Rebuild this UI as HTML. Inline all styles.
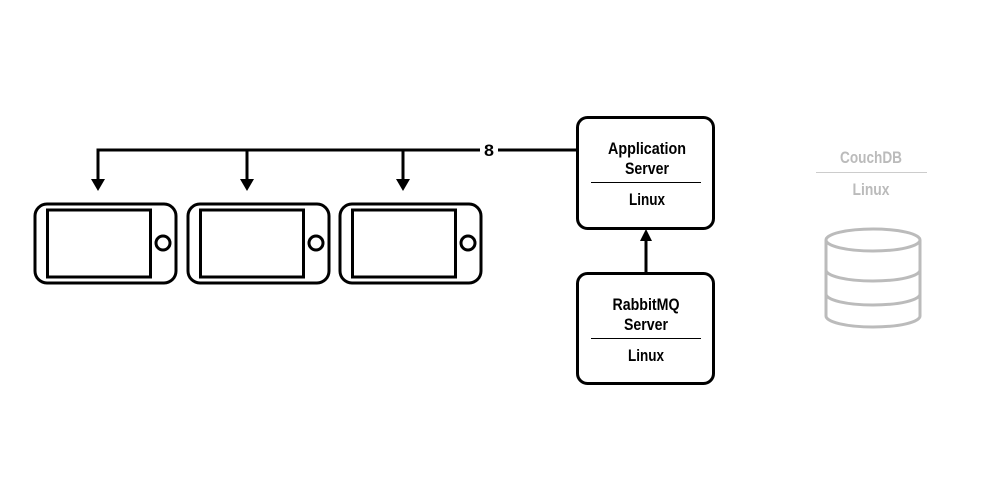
<!DOCTYPE html>
<html><head><style>
html,body{margin:0;padding:0;background:#fff;width:1000px;height:491px;overflow:hidden}
text{font-family:"Liberation Sans",sans-serif;font-weight:bold;font-size:17px;text-anchor:middle}
</style></head><body>
<svg width="1000" height="491" viewBox="0 0 1000 491" xmlns="http://www.w3.org/2000/svg">
<g stroke="#000" stroke-width="3" fill="none">
<path d="M577 150 H498 M480 150 H98 V180 M247 150 V180 M403 150 V180"/>
<path d="M646 273 V240"/>
</g>
<g fill="#000">
<polygon points="91,179 105,179 98,191"/>
<polygon points="240,179 254,179 247,191"/>
<polygon points="396,179 410,179 403,191"/>
<polygon points="640,241 652,241 646,229"/>
</g>
<text x="489" y="156" textLength="10" lengthAdjust="spacingAndGlyphs">8</text>
<g fill="none" stroke="#000" stroke-width="3">
<rect x="35" y="204" width="141" height="79" rx="12"/>
<rect x="47.5" y="210" width="103" height="67"/>
<circle cx="163" cy="243" r="7"/>
<rect x="188" y="204" width="141" height="79" rx="12"/>
<rect x="200.5" y="210" width="103" height="67"/>
<circle cx="316" cy="243" r="7"/>
<rect x="340" y="204" width="141" height="79" rx="12"/>
<rect x="352.5" y="210" width="103" height="67"/>
<circle cx="468" cy="243" r="7"/>
<rect x="577.5" y="117.5" width="136" height="111" rx="10"/>
<rect x="577.5" y="273.5" width="136" height="110" rx="10"/>
</g>
<g stroke="#000" stroke-width="1"><path d="M591 182.5 H701 M591 338.5 H701"/></g>
<text x="647" y="154" textLength="78" lengthAdjust="spacingAndGlyphs">Application</text>
<text x="647" y="174" textLength="44" lengthAdjust="spacingAndGlyphs">Server</text>
<text x="647" y="205" textLength="36" lengthAdjust="spacingAndGlyphs">Linux</text>
<text x="646" y="310" textLength="67" lengthAdjust="spacingAndGlyphs">RabbitMQ</text>
<text x="646" y="330" textLength="44" lengthAdjust="spacingAndGlyphs">Server</text>
<text x="646" y="361" textLength="36" lengthAdjust="spacingAndGlyphs">Linux</text>
<g fill="#bbb"><text x="871" y="163" textLength="62" lengthAdjust="spacingAndGlyphs">CouchDB</text><text x="871" y="195" textLength="37" lengthAdjust="spacingAndGlyphs">Linux</text></g>
<path d="M816 172.5 H927" stroke="#ccc" stroke-width="1"/>
<g fill="none" stroke="#bbb" stroke-width="3">
<ellipse cx="873" cy="240" rx="47" ry="11"/>
<path d="M826 240 V316 A47 11 0 0 0 920 316 V240"/>
<path d="M826 270 A47 11 0 0 0 920 270 M826 294 A47 11 0 0 0 920 294"/>
</g>
</svg>
</body></html>
